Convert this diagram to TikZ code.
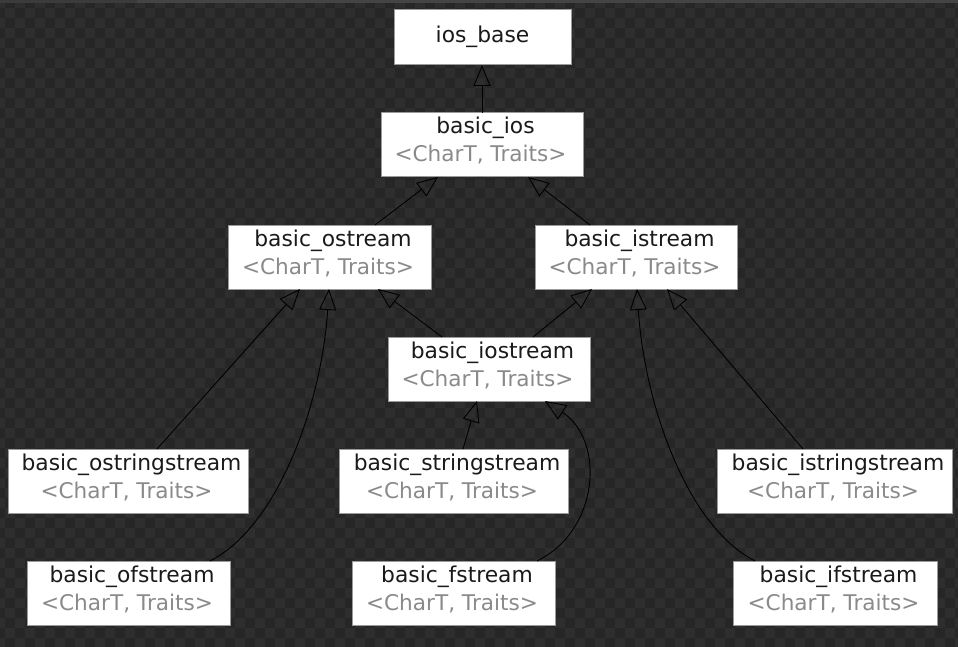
\documentclass[tikz,border=0pt]{standalone}
\usepackage{fontspec}
\setmainfont{DejaVu Sans}
\usetikzlibrary{arrows.meta}
\definecolor{bgdark}{HTML}{262626}
\definecolor{bglight}{HTML}{2E2E2E}
\definecolor{stripa}{HTML}{3A3B3A}
\definecolor{stripb}{HTML}{444444}
\definecolor{boxedge}{HTML}{9A9A9A}
\definecolor{nmcol}{HTML}{1A1A1A}
\definecolor{tpcol}{HTML}{8A8A8A}
\tikzset{
  clsbox/.style={draw=boxedge, line width=1pt, fill=white, inner sep=0pt, outer sep=0pt, rectangle},
  nmtext/.style={text=nmcol, inner sep=0pt, font=\fontsize{21.8}{28}\selectfont},
  tptext/.style={text=tpcol, inner sep=0pt, font=\fontsize{21.6}{28}\selectfont},
  inh/.style={draw=black, line width=0.9pt, -{Triangle[open, length=21pt, width=17pt]}},
}
\newcommand\clsnode[5]{%
  \node[clsbox, minimum width=#4, minimum height=64] (#1) at (#2,#3) {};
  \node[nmtext, anchor=base] (#1-n) at ([xshift=3.5pt,yshift=-21pt]#1.north) {#5};
  \node[tptext, anchor=base] (#1-t) at ([xshift=-1.5pt,yshift=-49pt]#1.north) {<CharT, Traits>};
}
\begin{document}
\begin{tikzpicture}[x=1pt,y=-1pt]
\useasboundingbox (0,0) rectangle (958,647);
\begin{scope}
\clip (0,0) rectangle (958,647);
\fill[bgdark] (0,0) rectangle (958,647);
\foreach \i in {0,...,48}{
  \foreach \j in {0,...,33}{
    \fill[bglight] (\i*20-5,\j*20-2) rectangle ++(10,10);
    \fill[bglight] (\i*20+5,\j*20+8) rectangle ++(10,10);
  }
}
\fill[stripa] (0,0) rectangle (137,3);
\fill[stripb] (137,0) rectangle (958,3);
\end{scope}

% boxes
\node[clsbox, minimum width=177, minimum height=55] (ios) at (482.5,37.5) {};
\node[nmtext, anchor=base] (ios-n) at ([yshift=-33pt]ios.north) {ios\_base};
\clsnode{bios}{482}{145}{202}{basic\_ios}
\clsnode{ostream}{329.5}{257}{203}{basic\_ostream}
\clsnode{istream}{636}{257}{202}{basic\_istream}
\clsnode{iostream}{489}{369}{202}{basic\_iostream}
\clsnode{ostringstream}{128}{481}{240}{basic\_ostringstream}
\clsnode{stringstream}{453.5}{481}{229}{basic\_stringstream}
\clsnode{istringstream}{834.5}{481}{235}{basic\_istringstream}
\clsnode{ofstream}{128.5}{593}{203}{basic\_ofstream}
\clsnode{fstream}{453.5}{593}{203}{basic\_fstream}
\clsnode{ifstream}{835}{593}{204}{basic\_ifstream}

% inheritance connectors
\draw[inh] (bios.north) -- (bios.north |- ios.south);
\draw[inh] ([xshift=45.5pt]ostream.north) -- ([xshift=-44pt]bios.south);
\draw[inh] ([xshift=-46pt]istream.north) -- ([xshift=46pt]bios.south);
\draw[inh] ([xshift=-47pt]iostream.north) -- ([xshift=48.5pt]ostream.south);
\draw[inh] ([xshift=44pt]iostream.north) -- ([xshift=-44pt]istream.south);
\draw[inh] ([xshift=29pt]ostringstream.north) -- ([xshift=-29.5pt]ostream.south);
\draw[inh] ([xshift=81.5pt]ofstream.north) .. controls (280,525) and (322,400) .. ([xshift=-0.5pt]ostream.south);
\draw[inh] ([xshift=9.5pt]stringstream.north) -- ([xshift=-12pt]iostream.south);
\draw[inh] ([xshift=83.5pt]fstream.north) .. controls (600,530) and (605,440) .. ([xshift=56pt]iostream.south);
\draw[inh] ([xshift=-31.5pt]istringstream.north) -- ([xshift=31pt]istream.south);
\draw[inh] ([xshift=-80pt]ifstream.north) .. controls (685,525) and (644,400) .. ([xshift=1pt]istream.south);
\end{tikzpicture}
\end{document}
